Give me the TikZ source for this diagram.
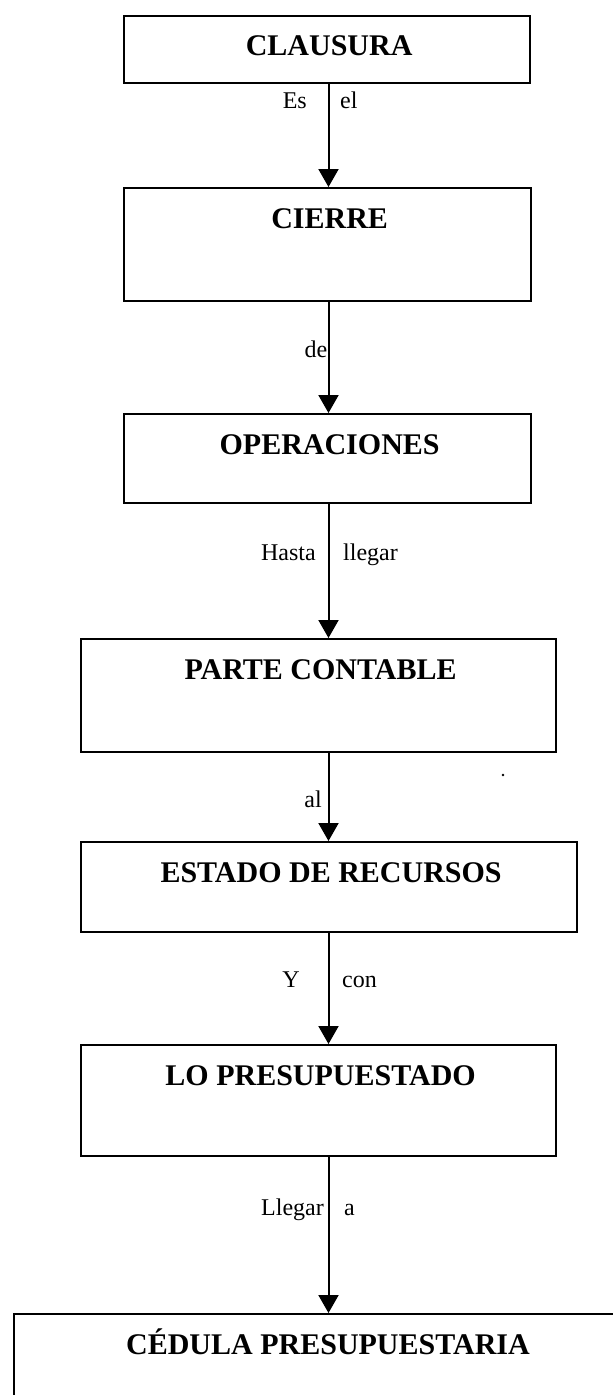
\documentclass[tikz,border=0pt]{standalone}
\usepackage{fontspec}
\setmainfont{Liberation Serif}
\usetikzlibrary{arrows.meta}
\begin{document}
\begin{tikzpicture}[x=1pt,y=1pt,
  box/.style={draw, line width=2.2pt, inner sep=0pt, anchor=north west},
  title/.style={font=\fontsize{30}{36}\selectfont\bfseries, inner sep=0pt, anchor=base},
  lbl/.style={font=\fontsize{24}{28}\selectfont, inner sep=0pt},
  arr/.style={line width=2pt, -{Triangle[width=20pt,length=18pt]}}]
\useasboundingbox (0,0) rectangle (613,-1395);
% boxes
\node[box, minimum width=406pt, minimum height=67.5pt] (b1) at (123,-14.5) {};
\node[box, minimum width=407pt, minimum height=113pt] (b2) at (123,-187) {};
\node[box, minimum width=407pt, minimum height=89pt] (b3) at (123,-413) {};
\node[box, minimum width=475pt, minimum height=113pt] (b4) at (80,-638) {};
\node[box, minimum width=496pt, minimum height=90pt] (b5) at (80,-841) {};
\node[box, minimum width=475pt, minimum height=111pt] (b6) at (80,-1044) {};
\node[box, minimum width=620pt, minimum height=100pt] (b7) at (13,-1313) {};
% titles
\node[title] (t1) at ([xshift=2pt,yshift=-41pt]b1.north) {CLAUSURA};
\node[title] (t2) at ([xshift=2pt,yshift=-41pt]b2.north) {CIERRE};
\node[title] (t3) at ([xshift=2pt,yshift=-41pt]b3.north) {OPERACIONES};
\node[title] (t4) at ([xshift=2pt,yshift=-41pt]b4.north) {PARTE CONTABLE};
\node[title] (t5) at ([xshift=2pt,yshift=-41pt]b5.north) {ESTADO DE RECURSOS};
\node[title] (t6) at ([xshift=2pt,yshift=-41pt]b6.north) {LO PRESUPUESTADO};
\node[title] (t7) at ([yshift=-41pt]b7.north -| 328,0) {CÉDULA PRESUPUESTARIA};
% connectors
\coordinate (ax) at (328.5,0);
\draw[arr] (b1.south -| ax) -- (b2.north -| ax);
\draw[arr] (b2.south -| ax) -- (b3.north -| ax);
\draw[arr] (b3.south -| ax) -- (b4.north -| ax);
\draw[arr] (b4.south -| ax) -- (b5.north -| ax);
\draw[arr] (b5.south -| ax) -- (b6.north -| ax);
\draw[arr] (b6.south -| ax) -- (b7.north -| ax);
% labels
\node[lbl, anchor=base east] (l1a) at (307,-108) {Es};
\node[lbl, anchor=base west] (l1b) at (340,-108) {el};
\node[lbl, anchor=base east] (l2) at (327.5,-357) {de};
\node[lbl, anchor=base east] (l3a) at (316,-560) {Hasta};
\node[lbl, anchor=base west] (l3b) at (343,-560) {llegar};
\node[lbl, anchor=base east] (l4) at (322,-807) {al};
\node[lbl, anchor=base east] (l5a) at (300,-987) {Y};
\node[lbl, anchor=base west] (l5b) at (342,-987) {con};
\node[lbl, anchor=base east] (l6a) at (324,-1215) {Llegar};
\node[lbl, anchor=base west] (l6b) at (344,-1215) {a};
% stray dot
\fill (503,-775) circle (1.3pt);
\end{tikzpicture}
\end{document}
